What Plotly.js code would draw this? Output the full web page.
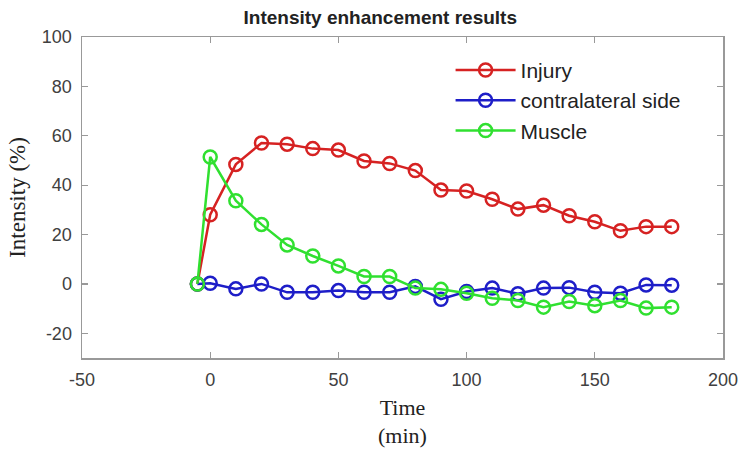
<!DOCTYPE html>
<html>
<head>
<meta charset="utf-8">
<script src="https://cdn.plot.ly/plotly-3.0.1.min.js"></script>
<style>html,body{margin:0;padding:0;background:#fff;}#chart{width:750px;height:454px;}</style>
</head>
<body>
<div id="chart"></div>
<script>
const time = [-5, 0, 10, 20, 30, 40, 50, 60, 70, 80, 90, 100, 110, 120, 130, 140, 150, 160, 170, 180];
const injury = [0, 28, 48.4, 57.1, 56.6, 54.8, 54.2, 49.8, 48.8, 45.9, 38, 37.6, 34.3, 30.3, 31.9, 27.6, 25.2, 21.5, 23.2, 23.2];
const contralateral = [0, 0.3, -2, 0, -3.4, -3.4, -2.7, -3.4, -3.4, -1, -6.2, -3.1, -1.7, -4, -1.7, -1.5, -3.4, -3.8, -0.4, -0.5];
const muscle = [0, 51.4, 33.7, 24.1, 15.8, 11.3, 7.3, 3, 3, -1.7, -2.2, -3.8, -5.8, -6.7, -9.4, -7.1, -8.8, -6.7, -9.8, -9.4];
const seriesNames = ["Injury", "contralateral side", "Muscle"];
const xTicks = [-50, 0, 50, 100, 150, 200];
const yTicks = [-20, 0, 20, 40, 60, 80, 100];

const colors = ["rgb(214,34,34)", "rgb(30,30,200)", "rgb(48,224,48)"];
const ys = [injury, contralateral, muscle];

const traces = ys.map((y, i) => ({
  x: time, y: y, name: seriesNames[i], type: "scatter", mode: "lines+markers",
  line: {color: colors[i], width: 2.5},
  marker: {symbol: "circle-open", size: 13, color: colors[i], line: {width: 2.5, color: colors[i]}}
}));
const axisCommon = {
  showline: true, mirror: "ticks", linecolor: "#999", linewidth: 1.5,
  ticks: "inside", ticklen: 6, tickcolor: "#999", tickwidth: 1.2,
  showgrid: false, zeroline: false, ticklabelstandoff: 5,
  tickfont: {family: "Liberation Sans, Arial, sans-serif", size: 18, color: "#404040"}
};
const layout = {
  width: 750, height: 454,
  margin: {l: 82, r: 27, t: 37, b: 96},
  paper_bgcolor: "#fff", plot_bgcolor: "#fff",
  title: {text: "<b>Intensity enhancement results</b>", x: 0.507, xanchor: "center", y: 0.962, yanchor: "middle",
    font: {family: "Liberation Sans, Arial, sans-serif", size: 19, color: "#222"}},
  xaxis: Object.assign({}, axisCommon, {range: [-50, 200], tickvals: xTicks, ticktext: xTicks.map(String),
    title: {text: "Time<br>(min)", standoff: 10, font: {family: "Liberation Serif, Times New Roman, serif", size: 22, color: "#222"}}}),
  yaxis: Object.assign({}, axisCommon, {range: [-30, 100], tickvals: yTicks, ticktext: yTicks.map(String),
    title: {text: "Intensity (%)", standoff: 10, font: {family: "Liberation Serif, Times New Roman, serif", size: 23, color: "#222"}}}),
  showlegend: true,
  legend: {x: 0.575, y: 0.96, xanchor: "left", yanchor: "top", bgcolor: "rgba(255,255,255,0)",
    itemwidth: 60, tracegroupgap: 0,
    font: {family: "Liberation Sans, Arial, sans-serif", size: 21, color: "#222"}}
};
Plotly.newPlot("chart", traces, layout, {displayModeBar: false, staticPlot: true});
</script>
</body>
</html>
